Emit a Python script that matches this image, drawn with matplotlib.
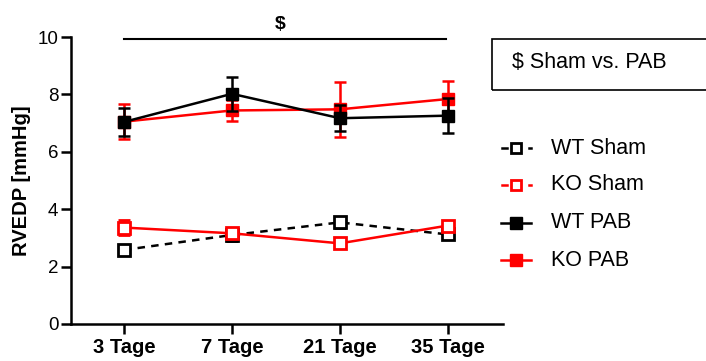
import matplotlib.pyplot as plt
from matplotlib.lines import Line2D
from matplotlib.patches import Rectangle

plt.rcParams['font.family'] = ['Liberation Sans', 'DejaVu Sans']

# data
timepoints = ['3 Tage', '7 Tage', '21 Tage', '35 Tage']
wt_sham = [2.58, 3.10, 3.54, 3.12]
wt_sham_err = [0.08, 0.20, 0.20, 0.15]
ko_sham = [3.36, 3.16, 2.81, 3.43]
ko_sham_err = [0.25, 0.12, 0.15, 0.15]
wt_pab = [7.04, 8.02, 7.17, 7.26]
wt_pab_err = [0.50, 0.60, 0.45, 0.62]
ko_pab = [7.05, 7.44, 7.48, 7.84]
ko_pab_err = [0.60, 0.38, 0.95, 0.62]

x = list(range(len(timepoints)))
W, H = 706, 361

fig = plt.figure(figsize=(7.06, 3.61), dpi=100)
ax = fig.add_axes([71 / W, 37 / H, 432 / W, 287 / H])

common = dict(capsize=4.5, elinewidth=1.8, capthick=1.8, markersize=9,
              marker='s', lw=1.8, clip_on=False)
ax.errorbar(x, wt_sham, yerr=wt_sham_err, color='black', ls=(0, (3, 2.5)),
            mfc='white', mec='black', mew=2, zorder=3, **common)
ax.errorbar(x, ko_sham, yerr=ko_sham_err, color='red', ls='-',
            mfc='white', mec='red', mew=2, zorder=4, **common)
ax.errorbar(x, ko_pab, yerr=ko_pab_err, color='red', ls='-', zorder=5, **common)
ax.errorbar(x, wt_pab, yerr=wt_pab_err, color='black', ls='-', zorder=6, **common)

ax.set_xlim(-0.49, 3.51)
ax.set_ylim(0, 10)
ax.set_yticks([0, 2, 4, 6, 8, 10])
ax.set_xticks(x)
ax.set_xticklabels(timepoints, fontweight='bold', fontsize=14.5)
ax.tick_params(axis='y', labelsize=13.5, width=1.8, length=7, pad=2)
ax.tick_params(axis='x', width=1.8, length=7, pad=3)
for s in ['top', 'right']:
    ax.spines[s].set_visible(False)
for s in ['left', 'bottom']:
    ax.spines[s].set_linewidth(1.8)
ax.set_ylabel('RVEDP [mmHg]', fontweight='bold', fontsize=14.5, labelpad=5)

# significance bar
ax.plot([0, 2.98], [9.93, 9.93], color='black', lw=1.5, clip_on=False)
ax.text(1.45, 10.15, '$', ha='center', va='bottom', fontsize=14,
        fontweight='bold')

# box note (right side runs off the figure)
fig.patches.append(Rectangle((492 / W, 1 - 90 / H), 230 / W, 51 / H,
                             transform=fig.transFigure, fill=False,
                             edgecolor='black', lw=1.2))
fig.text(512 / W, 1 - 63 / H, '$ Sham vs. PAB', fontsize=15.5,
         va='center', ha='left')

# legend drawn by hand
labels = ['WT Sham', 'KO Sham', 'WT PAB', 'KO PAB']
colors = ['black', 'red', 'black', 'red']
filled = [False, False, True, True]
rows_y = [148, 185, 223, 260]
for lab, c, f, ry in zip(labels, colors, filled, rows_y):
    yy = 1 - ry / H
    if f:
        fig.add_artist(Line2D([501 / W, 531 / W], [yy, yy], color=c, lw=1.8,
                              transform=fig.transFigure))
        fig.add_artist(Line2D([516 / W], [yy], marker='s', ms=8, color=c,
                              transform=fig.transFigure))
    else:
        fig.add_artist(Line2D([502 / W, 507 / W], [yy, yy], color=c, lw=1.8,
                              transform=fig.transFigure))
        fig.add_artist(Line2D([529 / W, 531 / W], [yy, yy], color=c, lw=1.8,
                              transform=fig.transFigure))
        fig.add_artist(Line2D([516 / W], [yy], marker='s', ms=7, mfc='white',
                              mec=c, mew=2, transform=fig.transFigure))
    fig.text(551 / W, yy, lab, fontsize=15.5, va='center', ha='left')

fig.savefig('out.png', dpi=100)
